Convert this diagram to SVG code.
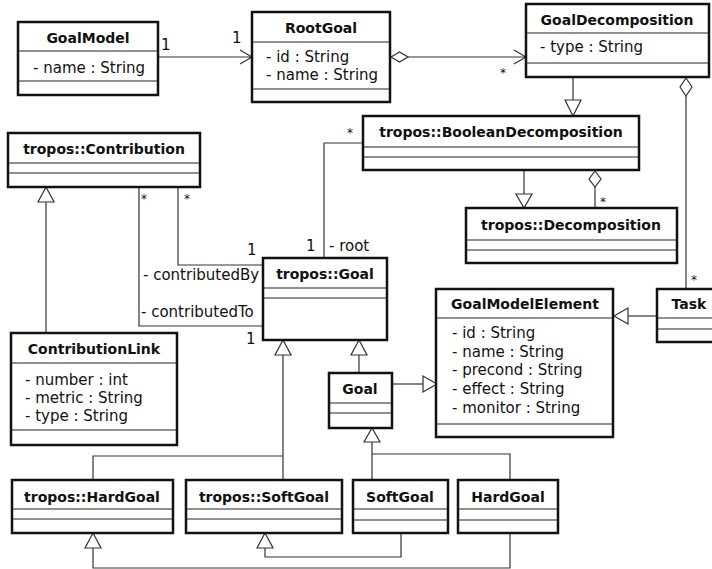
<svg xmlns="http://www.w3.org/2000/svg" width="712" height="569" viewBox="0 0 712 569">
  <style>
    .box { fill: #fff; stroke: #111; stroke-width: 2.5; }
    .sep { stroke: #222; stroke-width: 1; }
    .title { font-family: "DejaVu Sans", sans-serif; font-weight: bold; font-size: 14px; fill: #111; text-anchor: middle; }
    .attr { font-family: "DejaVu Sans", sans-serif; font-size: 15px; fill: #111; }
    .lbl { font-family: "DejaVu Sans", sans-serif; font-size: 15px; fill: #111; }
    .star { font-family: "DejaVu Sans", sans-serif; font-size: 12px; fill: #111; text-anchor: middle; }
    .edge { fill: none; stroke: #333; stroke-width: 1.2; }
    .gen { fill: #fff; stroke: #333; stroke-width: 1.2; }
  </style>

  <!-- connectors -->
  <g id="connectors">
    <!-- GoalModel -> RootGoal -->
    <path class="edge" d="M158,57 H252 M240,50 L252,57 L240,64"/>
    <text class="lbl" x="161" y="50">1</text>
    <text class="lbl" x="232" y="43">1</text>

    <!-- RootGoal <>-> GoalDecomposition -->
    <path class="edge" d="M408,57 H526 M514,50 L526,57 L514,64"/>
    <polygon class="gen" points="391,57 399.5,52 408,57 399.5,62"/>
    <text class="star" x="503" y="77">*</text>

    <!-- GoalDecomposition -> BooleanDecomposition (generalization) -->
    <path class="edge" d="M573,77 V100"/>
    <polygon class="gen" points="565,100 581,100 573,116"/>

    <!-- GoalDecomposition <>- Task -->
    <path class="edge" d="M686,96 V289"/>
    <polygon class="gen" points="686,78 692,87 686,96 680,87"/>
    <text class="star" x="694" y="284">*</text>

    <!-- BooleanDecomposition -> Decomposition (generalization) -->
    <path class="edge" d="M524,170 V194"/>
    <polygon class="gen" points="516,194 532,194 524,208"/>

    <!-- BooleanDecomposition <>- Decomposition -->
    <path class="edge" d="M595,187 V208"/>
    <polygon class="gen" points="595,171 601,179 595,187 589,179"/>
    <text class="star" x="603" y="206">*</text>

    <!-- BooleanDecomposition - tropos::Goal (root) -->
    <path class="edge" d="M363,143 H324 V258"/>
    <text class="star" x="350" y="137">*</text>
    <text class="lbl" x="306" y="251">1</text>
    <text class="lbl" x="329" y="251">- root</text>

    <!-- tropos::Contribution generalization -->
    <path class="edge" d="M46,202 V333"/>
    <polygon class="gen" points="38,202 54,202 46,187"/>

    <!-- tropos::Contribution - tropos::Goal -->
    <path class="edge" d="M178,187 V265 H263"/>
    <path class="edge" d="M139,187 V326 H263"/>
    <text class="star" x="144" y="203">*</text>
    <text class="star" x="187" y="203">*</text>
    <text class="lbl" x="247" y="255">1</text>
    <text class="lbl" x="143" y="280">- contributedBy</text>
    <text class="lbl" x="141" y="317">- contributedTo</text>
    <text class="lbl" x="246" y="344">1</text>

    <!-- tropos::Goal generalizations -->
    <path class="edge" d="M283,355 V480 M283,456 H93 V480"/>
    <polygon class="gen" points="275,355 291,355 283,340"/>
    <path class="edge" d="M359,355 V373"/>
    <polygon class="gen" points="351,355 367,355 359,340"/>

    <!-- Goal -> GoalModelElement -->
    <path class="edge" d="M392,384 H423"/>
    <polygon class="gen" points="423,376 423,392 437,384"/>

    <!-- Task -> GoalModelElement -->
    <path class="edge" d="M657,316 H628"/>
    <polygon class="gen" points="628,308 628,324 614,316"/>

    <!-- Goal generalizations -->
    <path class="edge" d="M372,442 V480 M372,454 H510 V480"/>
    <polygon class="gen" points="364,442 380,442 372,428"/>

    <!-- tropos::HardGoal / tropos::SoftGoal generalizations -->
    <path class="edge" d="M93,548 V568 H510 V533"/>
    <polygon class="gen" points="85,548 101,548 93,533"/>
    <path class="edge" d="M265,548 V557 H401 V533"/>
    <polygon class="gen" points="257,548 273,548 265,533"/>
  </g>

  <!-- classes -->
  <g id="GoalModel">
    <rect class="box" x="18" y="22" width="140" height="73"/>
    <path class="sep" d="M18,51 H158 M18,81 H158"/>
    <text class="title" x="88" y="43">GoalModel</text>
    <text class="attr" x="33" y="73">- name : String</text>
  </g>

  <g id="RootGoal">
    <rect class="box" x="252" y="12" width="138" height="90"/>
    <path class="sep" d="M252,42 H390 M252,89 H390"/>
    <text class="title" x="321" y="33">RootGoal</text>
    <text class="attr" x="266" y="62">- id : String</text>
    <text class="attr" x="266" y="80">- name : String</text>
  </g>

  <g id="GoalDecomposition">
    <rect class="box" x="526" y="4" width="183" height="73"/>
    <path class="sep" d="M526,33 H709 M526,63 H709"/>
    <text class="title" x="617" y="25">GoalDecomposition</text>
    <text class="attr" x="540" y="52">- type : String</text>
  </g>

  <g id="tropos-BooleanDecomposition">
    <rect class="box" x="363" y="116" width="276" height="54"/>
    <path class="sep" d="M363,147 H639 M363,157 H639"/>
    <text class="title" x="501" y="137">tropos::BooleanDecomposition</text>
  </g>

  <g id="tropos-Decomposition">
    <rect class="box" x="466" y="208" width="211" height="55"/>
    <path class="sep" d="M466,240 H677 M466,250 H677"/>
    <text class="title" x="571" y="230">tropos::Decomposition</text>
  </g>

  <g id="tropos-Contribution">
    <rect class="box" x="8" y="133" width="192" height="54"/>
    <path class="sep" d="M8,163 H200 M8,173 H200"/>
    <text class="title" x="104" y="154">tropos::Contribution</text>
  </g>

  <g id="tropos-Goal">
    <rect class="box" x="263" y="258" width="124" height="82"/>
    <path class="sep" d="M263,288 H387 M263,298 H387"/>
    <text class="title" x="325" y="279">tropos::Goal</text>
  </g>

  <g id="Goal">
    <rect class="box" x="329" y="373" width="63" height="55"/>
    <path class="sep" d="M329,403 H392 M329,413 H392"/>
    <text class="title" x="360" y="394">Goal</text>
  </g>

  <g id="GoalModelElement">
    <rect class="box" x="436" y="289" width="177" height="148"/>
    <path class="sep" d="M436,318 H613 M436,424 H613"/>
    <text class="title" x="525" y="309">GoalModelElement</text>
    <text class="attr" x="452" y="338">- id : String</text>
    <text class="attr" x="452" y="357">- name : String</text>
    <text class="attr" x="452" y="375">- precond : String</text>
    <text class="attr" x="452" y="394">- effect : String</text>
    <text class="attr" x="452" y="413">- monitor : String</text>
  </g>

  <g id="Task">
    <rect class="box" x="657" y="289" width="64" height="53"/>
    <path class="sep" d="M657,318 H721 M657,329 H721"/>
    <text class="title" x="689" y="309">Task</text>
  </g>

  <g id="ContributionLink">
    <rect class="box" x="11" y="333" width="166" height="112"/>
    <path class="sep" d="M11,363 H177 M11,430 H177"/>
    <text class="title" x="94" y="354">ContributionLink</text>
    <text class="attr" x="25" y="385">- number : int</text>
    <text class="attr" x="25" y="403">- metric : String</text>
    <text class="attr" x="25" y="421">- type : String</text>
  </g>

  <g id="tropos-HardGoal">
    <rect class="box" x="12" y="480" width="161" height="53"/>
    <path class="sep" d="M12,509 H173 M12,519 H173"/>
    <text class="title" x="92" y="502">tropos::HardGoal</text>
  </g>

  <g id="tropos-SoftGoal">
    <rect class="box" x="186" y="480" width="156" height="53"/>
    <path class="sep" d="M186,509 H342 M186,519 H342"/>
    <text class="title" x="264" y="502">tropos::SoftGoal</text>
  </g>

  <g id="SoftGoal">
    <rect class="box" x="353" y="480" width="95" height="53"/>
    <path class="sep" d="M353,509 H448 M353,520 H448"/>
    <text class="title" x="400" y="502">SoftGoal</text>
  </g>

  <g id="HardGoal">
    <rect class="box" x="458" y="480" width="100" height="53"/>
    <path class="sep" d="M458,509 H558 M458,520 H558"/>
    <text class="title" x="508" y="502">HardGoal</text>
  </g>
</svg>
